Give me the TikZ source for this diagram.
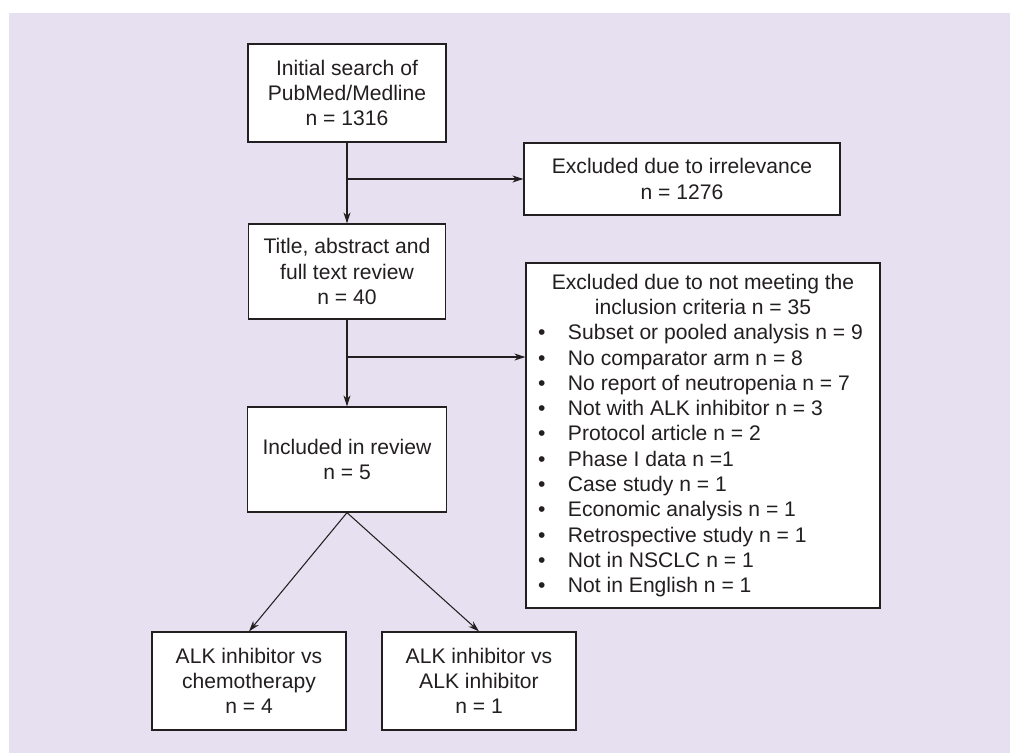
\documentclass[tikz,border=0pt]{standalone}
\usepackage{fontspec}
\setmainfont{Liberation Sans}
\usepackage{xcolor}
\usetikzlibrary{arrows.meta}
\definecolor{panel}{RGB}{230,224,240}
\definecolor{ink}{RGB}{35,31,32}
\newcommand{\blt}{\makebox[0.64cm][l]{\hspace{0.04cm}\textbullet}}

\begin{document}
\begin{tikzpicture}[auto, >={Stealth[length=2.2mm,width=1.4mm]},
    every node/.style={font=\fontsize{12}{14.4}\selectfont, text=ink},
    box/.style={draw=ink, fill=white, line width=0.7pt, align=center, inner sep=0pt},
    link/.style={draw=ink, line width=0.6pt}]
    \useasboundingbox (0, 0) rectangle (20.2, -15.06);
    \fill [white] (0, 0) rectangle (20.2, -15.06);
    \fill [panel] (0.18, -0.26) rectangle (20.2, -15.06);
    \node [box, minimum width=3.96cm, minimum height=1.96cm] (init) at (6.94, -1.86) {Initial search of\\PubMed/Medline\\n = 1316};
    \node [box, minimum width=6.32cm, minimum height=1.44cm] (irrel) at (13.64, -3.58) {Excluded due to irrelevance\\n = 1276};
    \node [box, minimum width=3.94cm, minimum height=1.90cm] (title) at (6.94, -5.43) {Title, abstract and\\full text review\\n = 40};
    \node [box, minimum width=7.08cm, minimum height=6.90cm, inner xsep=0.2cm, text width=6.68cm, align=none] (crit) at (14.06, -8.71) {%
        {\centering Excluded due to not meeting the\\inclusion criteria n = 35\par}\raggedright
        \blt Subset or pooled analysis n = 9\\
        \blt No comparator arm n = 8\\
        \blt No report of neutropenia n = 7\\
        \blt Not with ALK inhibitor n = 3\\
        \blt Protocol article n = 2\\
        \blt Phase I data n =1\\
        \blt Case study n = 1\\
        \blt Economic analysis n = 1\\
        \blt Retrospective study n = 1\\
        \blt Not in NSCLC n = 1\\
        \blt Not in English n = 1\par};
    \node [box, minimum width=3.98cm, minimum height=2.10cm] (incl) at (6.94, -9.19) {Included in review\\n = 5};
    \node [box, minimum width=3.88cm, minimum height=1.96cm] (chemo) at (4.98, -13.62) {ALK inhibitor vs\\chemotherapy\\n = 4};
    \node [box, minimum width=3.88cm, minimum height=1.96cm] (alk) at (9.58, -13.62) {ALK inhibitor vs\\ALK inhibitor\\n = 1};
    \coordinate (j1) at (init.south |- irrel.west);
    \coordinate (j2) at (6.94, -7.14);
    \draw [link, ->] (init) to (title);
    \draw [link, ->] (j1) to (irrel);
    \draw [link, ->] (title) to (incl);
    \draw [link, ->] (j2) to (crit.west |- j2);
    \draw [link, ->] (incl.south) to (chemo.north);
    \draw [link, ->] (incl.south) to (alk.north);
  \end{tikzpicture}
\end{document}
